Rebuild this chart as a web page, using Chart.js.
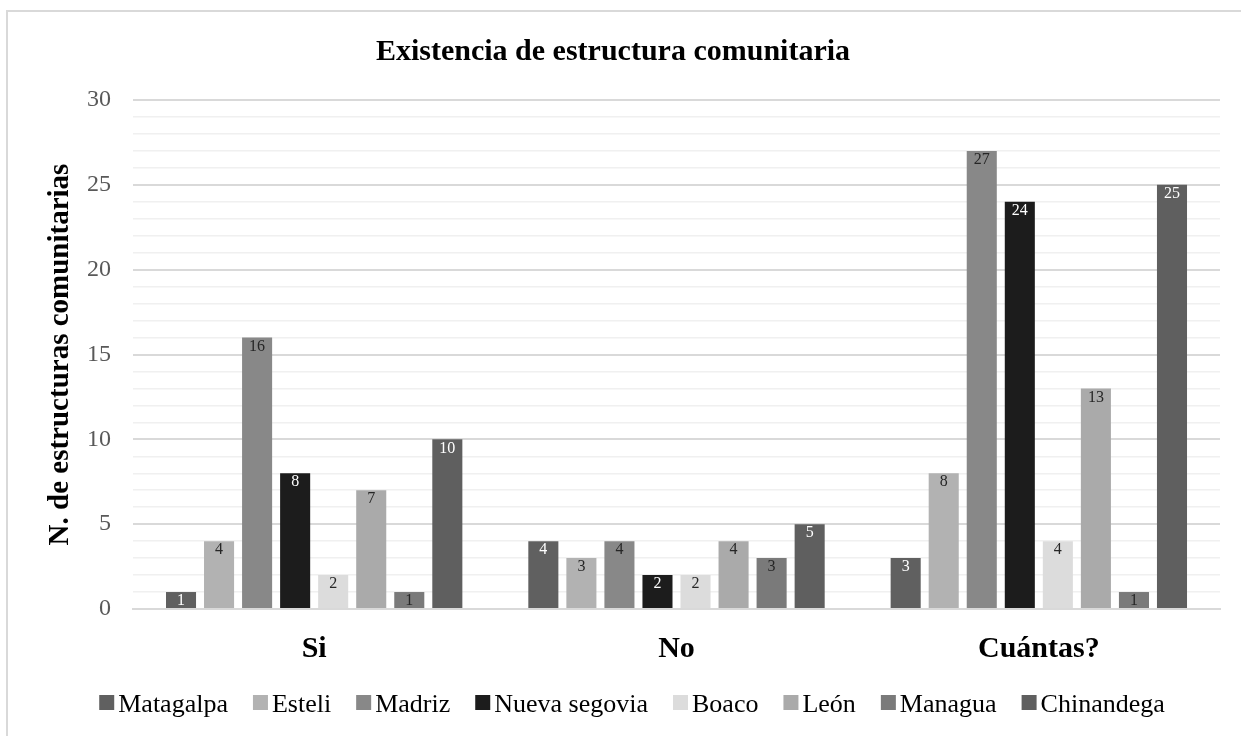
<!DOCTYPE html>
<html>
<head>
<meta charset="utf-8">
<script src="https://cdn.jsdelivr.net/npm/chart.js@4/dist/chart.umd.min.js"></script>
<style>
  html, body { margin: 0; padding: 0; background: #fff; overflow: hidden; }
  #frame {
    position: absolute; left: 6px; top: 10px; width: 1400px; height: 900px;
    border-left: 2px solid #d9d9d9; border-top: 2px solid #d9d9d9;
  }
  #wrap { position: absolute; left: 0; top: 0; width: 1241px; height: 736px; }
</style>
</head>
<body>
<div id="frame"></div>
<div id="wrap"><canvas id="chart"></canvas></div>
<script>
const categories = ['Si', 'No', 'Cuántas?'];
const matagalpa = [1, 4, 3];
const esteli = [4, 3, 8];
const madriz = [16, 4, 27];
const nuevaSegovia = [8, 2, 24];
const boaco = [2, 2, 4];
const leon = [7, 4, 13];
const managua = [1, 3, 1];
const chinandega = [10, 5, 25];

const seriesNames = ['Matagalpa', 'Esteli', 'Madriz', 'Nueva segovia', 'Boaco', 'León', 'Managua', 'Chinandega'];
const seriesValues = [matagalpa, esteli, madriz, nuevaSegovia, boaco, leon, managua, chinandega];
const seriesColors = ['#606060', '#b2b2b2', '#888888', '#1c1c1c', '#dcdcdc', '#aaaaaa', '#7a7a7a', '#5f5f5f'];

const serif = "'Liberation Serif', 'Times New Roman', serif";

// value labels drawn inside the top of each bar
const barLabels = {
    id: 'barLabels',
    afterDatasetsDraw(chart) {
        const ctx = chart.ctx;
        ctx.save();
        ctx.font = '16px ' + serif;
        ctx.textAlign = 'center';
        ctx.textBaseline = 'top';
        chart.data.datasets.forEach((ds, i) => {
            const meta = chart.getDatasetMeta(i);
            const dark = parseInt(ds.backgroundColor.slice(1, 3), 16) < 0x70;
            ctx.fillStyle = dark ? '#ffffff' : '#262626';
            meta.data.forEach((bar, j) => {
                ctx.fillText(String(ds.data[j]), bar.x, bar.y + 1);
            });
        });
        ctx.restore();
    }
};

// compact legend row under the axis: small square, tight gap, then the name
const legendRow = {
    id: 'legendRow',
    afterDraw(chart) {
        const ctx = chart.ctx;
        const box = 15, gap = 4, spacing = 25, baseline = 712, centerX = 632;
        ctx.save();
        ctx.font = '26px ' + serif;
        ctx.textBaseline = 'alphabetic';
        const items = chart.data.datasets.map(ds => ({
            text: ds.label, color: ds.backgroundColor, w: ctx.measureText(ds.label).width
        }));
        const total = items.reduce((s, it) => s + box + gap + it.w, 0) + spacing * (items.length - 1);
        let x = centerX - total / 2;
        items.forEach(it => {
            ctx.fillStyle = it.color;
            ctx.fillRect(x, baseline - 17, box, box);
            ctx.fillStyle = '#000';
            ctx.fillText(it.text, x + box + gap, baseline);
            x += box + gap + it.w + spacing;
        });
        ctx.restore();
    }
};

new Chart(document.getElementById('chart'), {
    type: 'bar',
    data: {
        labels: categories,
        datasets: seriesNames.map((name, i) => ({
            label: name,
            data: seriesValues[i],
            backgroundColor: seriesColors[i],
            borderWidth: 0,
            categoryPercentage: 0.84,
            barPercentage: 0.79
        }))
    },
    options: {
        responsive: true,
        maintainAspectRatio: false,
        animation: false,
        layout: { padding: { left: 6, right: 21, top: 0, bottom: 47 } },
        plugins: {
            title: {
                display: true,
                text: 'Existencia de estructura comunitaria',
                color: '#000',
                font: { family: serif, size: 30, weight: 'bold' },
                padding: { top: 34, bottom: 30 }
            },
            legend: { display: false },
            tooltip: { enabled: false }
        },
        scales: {
            x: {
                grid: { display: false, drawTicks: false },
                border: { color: '#d9d9d9', width: 2 },
                ticks: {
                    color: '#000',
                    padding: 22,
                    font: { family: serif, size: 30, weight: 'bold' }
                }
            },
            y: {
                min: 0,
                max: 30,
                border: { display: false },
                grid: {
                    drawTicks: false,
                    color: c => c.tick.value % 5 === 0 ? '#d9d9d9' : '#f0f0f0',
                    lineWidth: c => c.tick.value % 5 === 0 ? 2 : 1.5
                },
                ticks: {
                    stepSize: 1,
                    autoSkip: false,
                    padding: 22,
                    color: '#595959',
                    font: { family: serif, size: 24 },
                    callback: v => v % 5 === 0 ? v : ''
                },
                title: {
                    display: true,
                    text: 'N. de estructuras comunitarias',
                    color: '#000',
                    font: { family: serif, size: 29, weight: 'bold' },
                    padding: { top: 37, bottom: 0 }
                },
                afterFit: s => { s.width = 127; }
            }
        }
    },
    plugins: [barLabels, legendRow]
});
</script>
</body>
</html>
